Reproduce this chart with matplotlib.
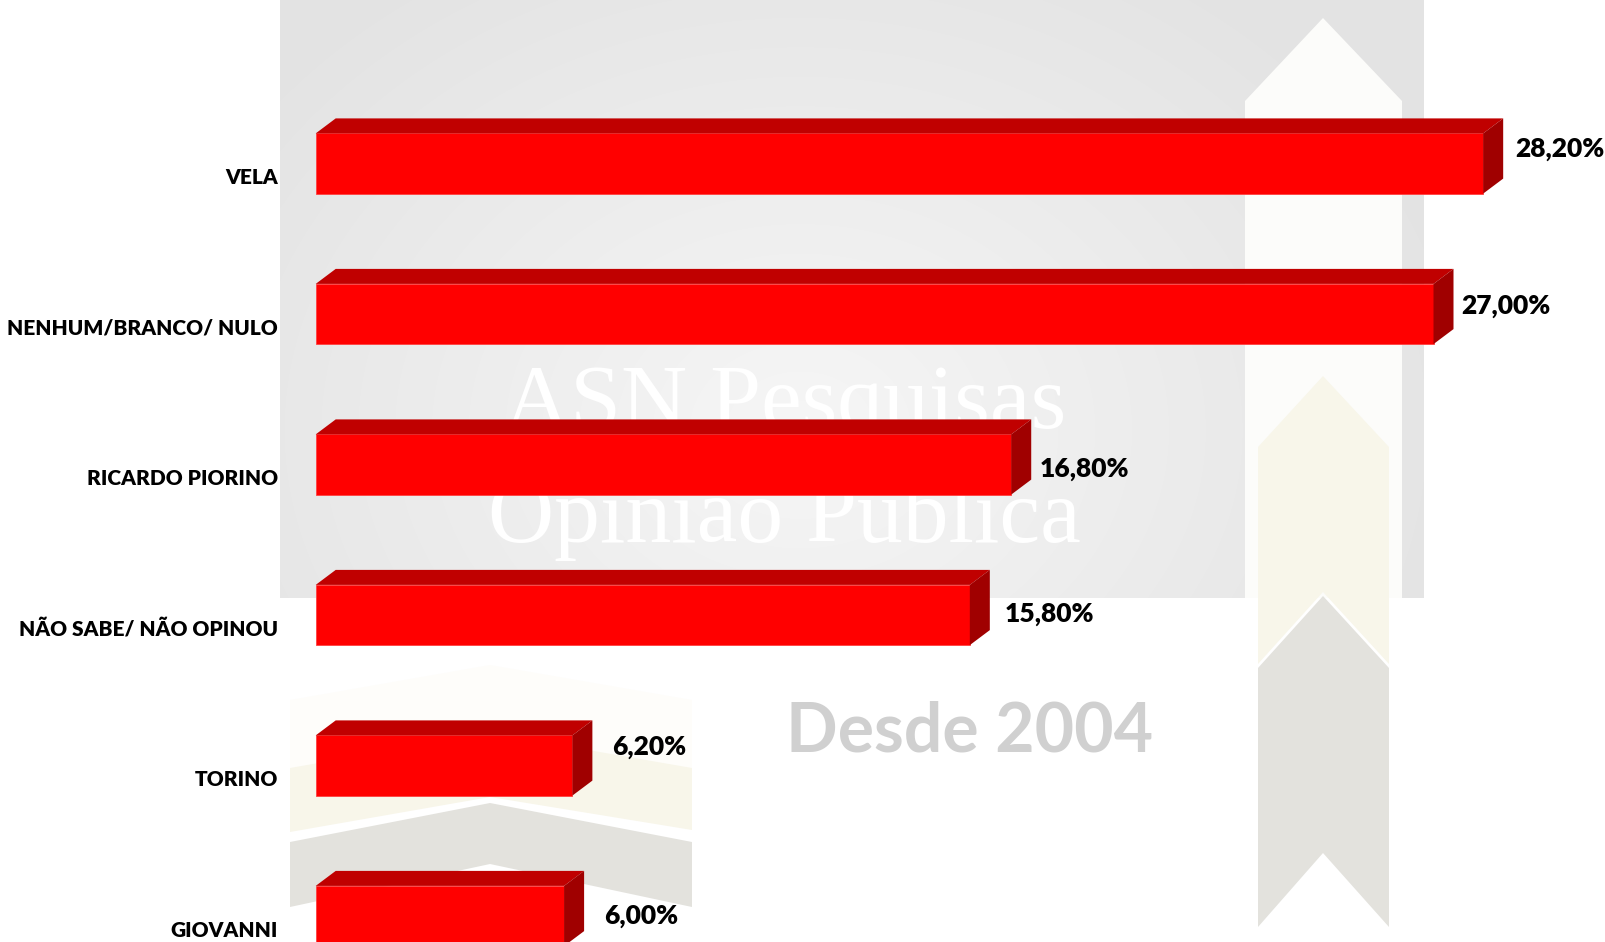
import numpy as np
import matplotlib
matplotlib.use('agg')
from matplotlib import pyplot as plt
from matplotlib.patches import Polygon

plt.rcParams['font.family'] = ['Lato', 'DejaVu Sans']

# survey results (percent)
candidates = ['VELA', 'NENHUM/BRANCO/ NULO', 'RICARDO PIORINO',
              'NÃO SABE/ NÃO OPINOU', 'TORINO', 'GIOVANNI']
values = [28.2, 27.0, 16.8, 15.8, 6.2, 6.0]
value_labels = ['28,20%', '27,00%', '16,80%', '15,80%', '6,20%', '6,00%']

# hand placed label nudges (pixels, like the moved labels in the original)
nudge_x = [12, 8, 8, 15, 20, 20]
nudge_up = [17, 10, -2, 3, 21, 2]

W, H = 1605, 942
fig = plt.figure(figsize=(W / 100, H / 100), dpi=100)

# ---- watermark background, drawn in pixel coordinates ----
bg = fig.add_axes([0, 0, 1, 1])
bg.set_xlim(0, W)
bg.set_ylim(H, 0)
bg.axis('off')

rx0, rx1, ry1 = 280, 1424, 598
xx, yy = np.meshgrid(np.arange(rx0, rx1), np.arange(0, ry1))
d = np.sqrt(((xx - 800) / 700.0) ** 2 + ((yy - 430) / 560.0) ** 2)
shade = (246 - 19 * np.clip(d, 0, 1)) / 255.0
bg.imshow(np.dstack([shade] * 3), extent=(rx0, rx1, ry1, 0),
          aspect='auto', zorder=0, interpolation='bilinear')

# right hand arrow
bg.add_patch(Polygon([(1245, ry1), (1245, 101), (1323, 18), (1402, 101),
                      (1402, ry1)], closed=True, fc='#fcfcfa', ec='none',
                     zorder=1))
bg.add_patch(Polygon([(1258, 447), (1323, 376), (1389, 447), (1389, 664),
                      (1323, 592), (1258, 664)], closed=True, fc='#f8f6ea',
                     ec='none', zorder=2))
bg.add_patch(Polygon([(1258, 668), (1323, 596), (1389, 668), (1389, 927),
                      (1323, 853), (1258, 927)], closed=True, fc='#e3e2dd',
                     ec='none', zorder=2))

# bottom left chevrons
bg.add_patch(Polygon([(290, 700), (490, 665), (692, 700), (692, 768),
                      (290, 768)], closed=True, fc='#fefdfa', ec='none',
                     zorder=2))
bg.add_patch(Polygon([(290, 768), (490, 733), (692, 768), (692, 830),
                      (490, 797), (290, 832)], closed=True, fc='#f8f6ea',
                     ec='none', zorder=2))
bg.add_patch(Polygon([(290, 842), (490, 803), (692, 842), (692, 907),
                      (490, 864), (290, 907)], closed=True, fc='#e3e2dd',
                     ec='none', zorder=2))

bg.text(785, 428, 'ASN Pesquisas', family='Liberation Serif', fontsize=66,
        color='white', ha='center', va='baseline', zorder=3)
bg.text(784, 542, 'Opinião Pública', family='Liberation Serif', fontsize=66,
        color='white', ha='center', va='baseline', zorder=3)
bg.text(970, 752, 'Desde 2004', fontsize=49, fontweight='bold',
        color='#d0d0d0', ha='center', va='baseline', zorder=3)

# ---- bars ----
ax = fig.add_axes([0, 0, 1, 1])
ax.patch.set_alpha(0)
ax.axis('off')

x0_px, px_per_pct = 315.7, 41.4
row0_px, row_px = 163.5, 150.5
ax.set_xlim(-x0_px / px_per_pct, (W - x0_px) / px_per_pct)
ax.set_ylim((H - row0_px) / row_px, -row0_px / row_px)

ypos = np.arange(len(values))
bar_h = 0.4
dep_x = 20 / px_per_pct
dep_y = 15 / row_px

ax.barh(ypos, values, height=bar_h, color='#ff0000', edgecolor='#ff4040',
        linewidth=0.6, zorder=3)
for y, v in zip(ypos, values):
    top = y - bar_h / 2
    bot = y + bar_h / 2
    ax.add_patch(Polygon([(0, top), (v, top), (v + dep_x, top - dep_y),
                          (dep_x, top - dep_y)], closed=True, fc='#c00000',
                         ec='none', zorder=3))
    ax.add_patch(Polygon([(v, top), (v + dep_x, top - dep_y),
                          (v + dep_x, bot - dep_y), (v, bot)], closed=True,
                         fc='#a00000', ec='none', zorder=3))

for i, (y, name) in enumerate(zip(ypos, candidates)):
    ax.annotate(name, xy=(0, y), xytext=(-38, -21),
                textcoords='offset pixels', ha='right', va='baseline',
                fontsize=15, fontweight='heavy', color='black')
    ax.annotate(value_labels[i], xy=(values[i] + dep_x, y),
                xytext=(nudge_x[i], nudge_up[i] - 10),
                textcoords='offset pixels', ha='left', va='baseline',
                fontsize=19, fontweight='heavy', color='black')

fig.savefig('out.png', dpi=100, facecolor='white')
